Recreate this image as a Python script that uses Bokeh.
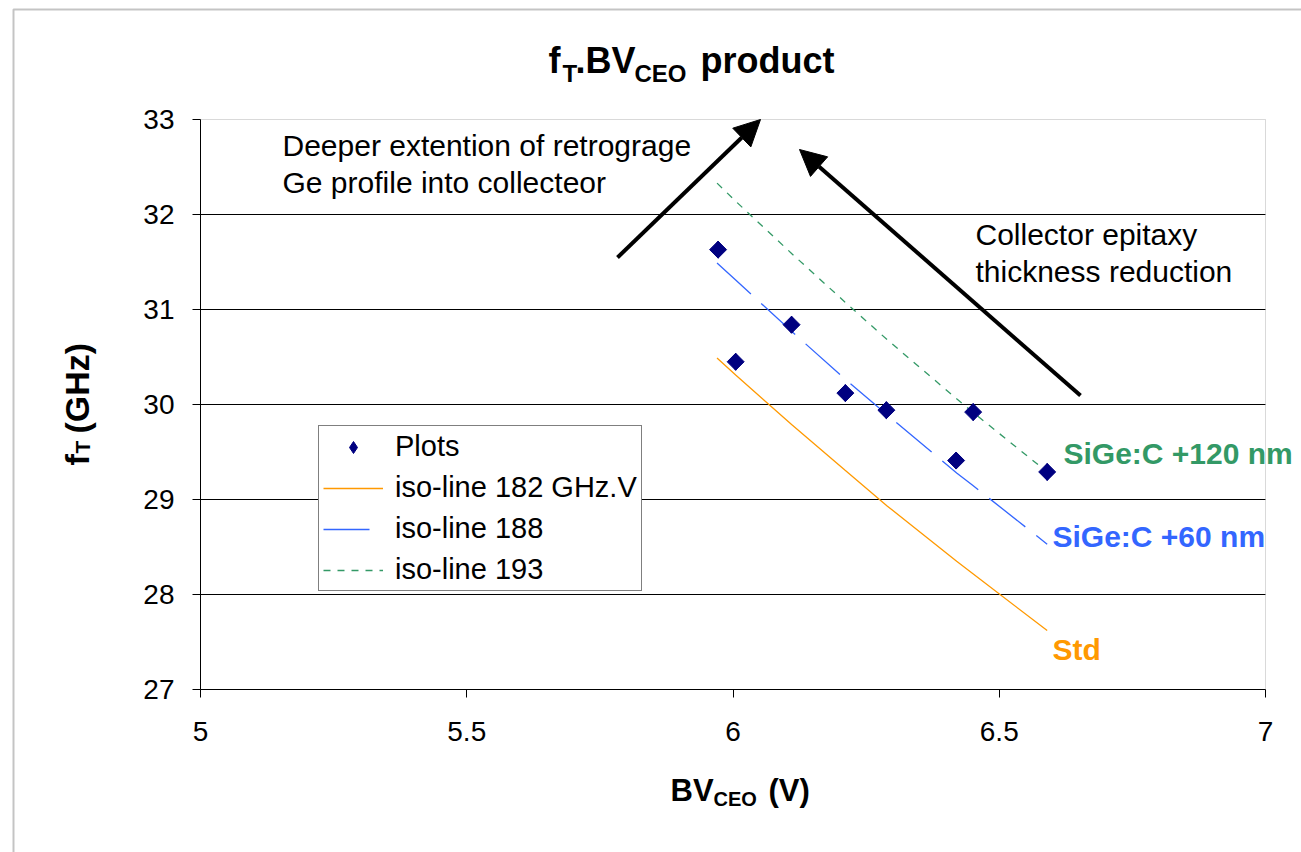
from bokeh.plotting import figure
from bokeh.models import (Range1d, FixedTicker, Label, Arrow, NormalHead,
                          Legend, LegendItem, BoxAnnotation)
from bokeh.embed import file_html
from bokeh.resources import INLINE
import math

# Measured transistors: breakdown voltage BVCEO (V) and transit frequency fT (GHz)
bv_ceo = [5.972, 6.005, 6.110, 6.211, 6.288, 6.419, 6.451, 6.590]
ft_ghz = [31.63, 30.45, 30.84, 30.12, 29.94, 29.41, 29.92, 29.29]

# Constant fT.BVCEO product lines (GHz.V)
iso_bv = [5.97, 6.005, 6.11, 6.21, 6.29, 6.42, 6.45, 6.59]
iso_182 = [30.49, 30.31, 29.79, 29.31, 28.93, 28.35, 28.22, 27.62]
iso_188 = [31.49, 31.31, 30.77, 30.27, 29.89, 29.28, 29.15, 28.53]
iso_193 = [32.33, 32.14, 31.59, 31.08, 30.68, 30.06, 29.92, 29.29]

x_ticks = [5, 5.5, 6, 6.5, 7]
x_tick_labels = ["5", "5.5", "6", "6.5", "7"]
y_ticks = [27, 28, 29, 30, 31, 32, 33]
y_grid = [28, 29, 30, 31, 32]

# Page and plot-area geometry (pixels); the frame covers the whole page and the
# axes sit at fixed data locations so that titles and notes can live anywhere.
W, H = 1301, 852
FL, FR, FT, FB = 200, 1265, 119, 689
X0, X1, Y0, Y1 = 5, 7, 27, 33


def dx(px):
    return X0 + (px - FL) * (X1 - X0) / (FR - FL)


def dy(py):
    return Y0 + (FB - py) * (Y1 - Y0) / (FB - FT)


FONT = "Liberation Sans"
ORANGE = "#FF9900"
BLUE = "#3366FF"
GREEN = "#339966"
NAVY = "#000080"

p = figure(width=W, height=H, output_backend="svg", toolbar_location=None,
           x_range=Range1d(dx(0), dx(W)), y_range=Range1d(dy(H), dy(0)),
           min_border=0, min_border_left=0, min_border_right=0,
           min_border_top=0, min_border_bottom=0)
p.title = None
p.background_fill_color = "white"
p.border_fill_color = "white"
p.outline_line_color = None

# axes pinned to the plot-area edges
p.xaxis.fixed_location = Y0
p.yaxis.fixed_location = X0
p.xaxis.bounds = (X0, X1)
p.yaxis.bounds = (Y0, Y1)
p.xaxis.ticker = FixedTicker(ticks=x_ticks)
p.xaxis.major_label_overrides = dict(zip(x_ticks, x_tick_labels))
p.yaxis.ticker = FixedTicker(ticks=y_ticks)
for ax in (p.xaxis, p.yaxis):
    ax.axis_line_color = "black"
    ax.axis_line_width = 1
    ax.major_tick_line_color = "black"
    ax.major_tick_in = 0
    ax.major_tick_out = 8
    ax.minor_tick_line_color = None
    ax.major_label_text_font = FONT
    ax.major_label_text_font_size = "28px"
    ax.major_label_text_color = "black"
p.yaxis.major_label_standoff = 18
p.xaxis.major_label_standoff = 24

# plot-area border (gray) and chart-area border
p.add_layout(BoxAnnotation(left=X0, right=X1, bottom=Y0, top=Y1, fill_alpha=0,
                           line_color="#808080", line_width=1, level="underlay"))
p.add_layout(BoxAnnotation(left=dx(13), right=dx(W + 100), top=dy(9), bottom=dy(H + 100),
                           fill_alpha=0, line_color="#3c3c3c", line_width=2,
                           level="underlay"))

# horizontal gridlines across the plot area only
p.xgrid.grid_line_color = None
p.ygrid.ticker = FixedTicker(ticks=y_grid)
p.ygrid.grid_line_color = "black"
p.ygrid.grid_line_width = 1
try:
    p.ygrid.cross_bounds = (X0, X1)
except Exception:
    p.ygrid.grid_line_color = None
    p.segment(x0=[X0] * len(y_grid), x1=[X1] * len(y_grid), y0=y_grid, y1=y_grid,
              line_color="black", line_width=1)

# iso-product lines and measured points
r182 = p.line(iso_bv, iso_182, line_color=ORANGE, line_width=1.3)
r188 = p.line(iso_bv, iso_188, line_color=BLUE, line_width=1.3, line_dash="46 14")
r193 = p.line(iso_bv, iso_193, line_color=GREEN, line_width=1.3, line_dash="7 7")
rkey = p.scatter(bv_ceo, ft_ghz, marker="diamond", size=17,
                 fill_color=NAVY, line_color=NAVY)
rpts = p.scatter(bv_ceo, ft_ghz, marker="square", size=12, angle=math.pi / 4,
                 fill_color=NAVY, line_color=NAVY)

legend = Legend(items=[
    LegendItem(label="Plots", renderers=[rkey]),
    LegendItem(label="iso-line 182 GHz.V", renderers=[r182]),
    LegendItem(label="iso-line 188", renderers=[r188]),
    LegendItem(label="iso-line 193", renderers=[r193]),
], location=(318, H - 591))
legend.label_text_font = FONT
legend.label_text_font_size = "29px"
legend.label_text_color = "black"
legend.glyph_width = 60
legend.glyph_height = 30
legend.label_height = 30
legend.label_standoff = 12
legend.spacing = 8
legend.padding = 4
legend.margin = 0
legend.border_line_color = "black"
legend.border_line_width = 1
legend.background_fill_color = "white"
legend.background_fill_alpha = 1
p.add_layout(legend)

# trend arrows
for (x0, y0, x1, y1) in [(617, 257, 760, 119), (1080, 395, 799, 149)]:
    p.add_layout(Arrow(end=NormalHead(size=26, fill_color="black", line_color="black"),
                       x_start=dx(x0), y_start=dy(y0), x_end=dx(x1), y_end=dy(y1),
                       line_color="black", line_width=4))


def label(text, px, py, size, bold=False, color="black", angle=0.0):
    # px: start of the text; py: vertical centre of its capitals
    p.add_layout(Label(x=dx(px), y=dy(py), text=text, text_font=FONT,
                       text_font_size=size,
                       text_font_style="bold" if bold else "normal",
                       text_color=color, text_baseline="middle",
                       text_align="left", angle=angle))


# chart title: fT.BVCEO product
label("f", 548, 60, "36px", True)
label("T", 562, 73, "24px", True)
label(".BV", 575, 60, "36px", True)
label("CEO", 634, 73, "24px", True)
label("product", 700, 60, "36px", True)

# x-axis title: BVCEO (V)
label("BV", 670, 790, "31px", True)
label("CEO", 713, 798, "20px", True)
label("(V)", 768, 790, "31px", True)

# y-axis title: fT (GHz)
label("f", 76, 465, "34px", True, angle=math.pi / 2)
label("T", 82, 453, "21px", True, angle=math.pi / 2)
label("(GHz)", 76, 433, "34px", True, angle=math.pi / 2)

# annotations
label("Deeper extention of retrograge", 282, 145, "30px")
label("Ge profile into collecteor", 282, 182, "30px")
label("Collector epitaxy", 975, 234, "30px")
label("thickness reduction", 975, 271, "30px")

label("SiGe:C +120 nm", 1063, 453, "30px", True, GREEN)
label("SiGe:C +60 nm", 1052, 536, "30px", True, BLUE)
label("Std", 1052, 649, "30px", True, ORANGE)

open("out.html", "w").write(file_html(p, INLINE))
